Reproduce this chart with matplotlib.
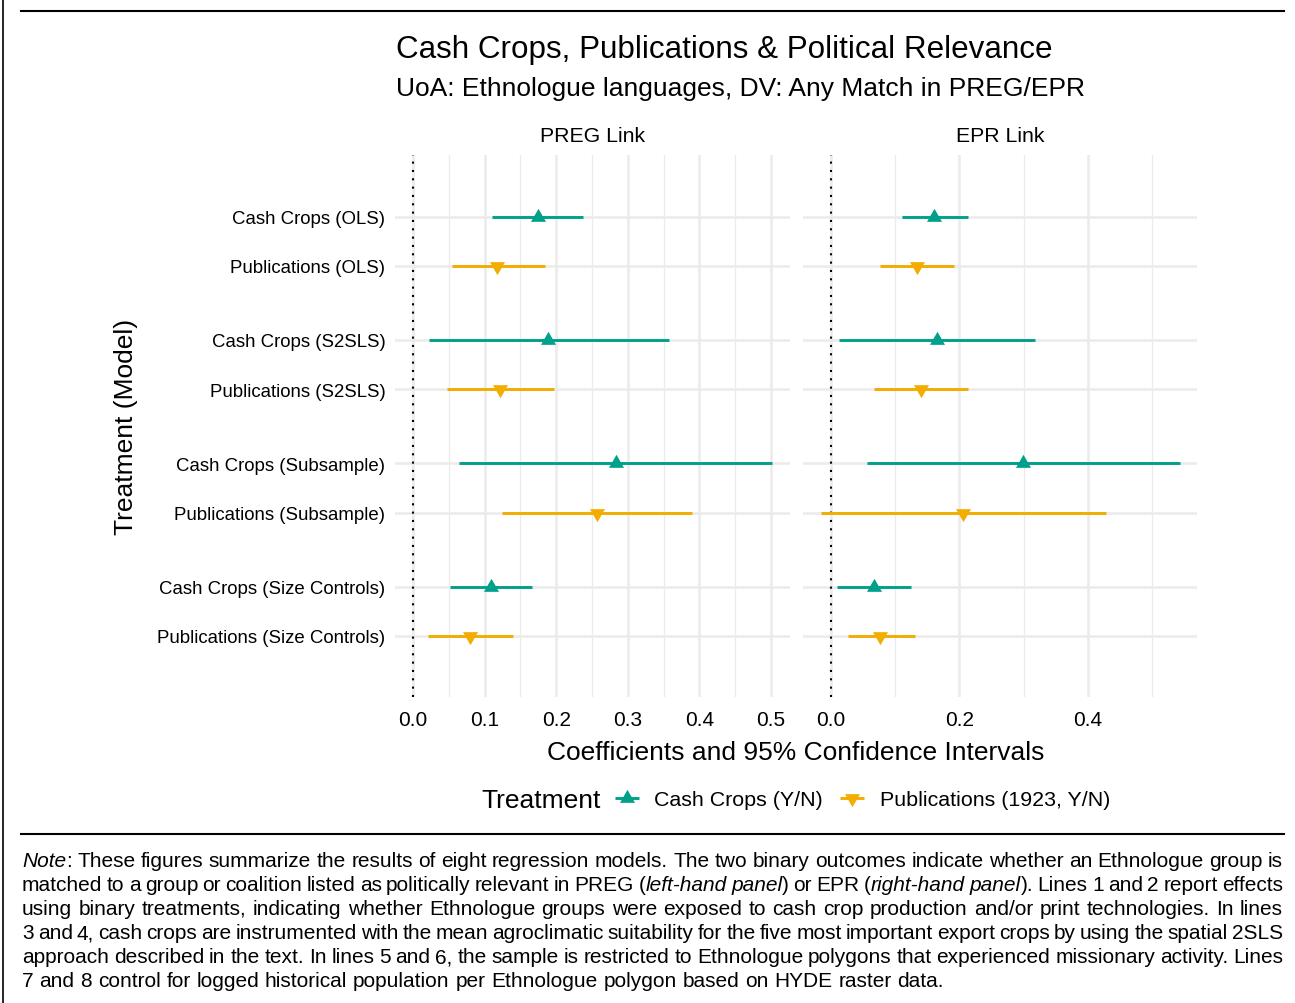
import re
import numpy as np
import matplotlib.pyplot as plt
from matplotlib.lines import Line2D

plt.rcParams['font.family'] = ['Liberation Sans', 'DejaVu Sans']

# rows, top to bottom
models = ["Cash Crops (OLS)", "Publications (OLS)",
          "Cash Crops (S2SLS)", "Publications (S2SLS)",
          "Cash Crops (Subsample)", "Publications (Subsample)",
          "Cash Crops (Size Controls)", "Publications (Size Controls)"]
treatments = ["Cash Crops (Y/N)", "Publications (1923, Y/N)"] * 4

preg_est = [0.174, 0.118, 0.189, 0.122, 0.283, 0.257, 0.109, 0.080]
preg_lo = [0.110, 0.054, 0.022, 0.048, 0.064, 0.124, 0.052, 0.021]
preg_hi = [0.238, 0.184, 0.358, 0.197, 0.501, 0.390, 0.166, 0.140]

epr_est = [0.161, 0.134, 0.165, 0.140, 0.299, 0.206, 0.067, 0.077]
epr_lo = [0.110, 0.077, 0.013, 0.067, 0.056, -0.016, 0.009, 0.026]
epr_hi = [0.213, 0.191, 0.318, 0.213, 0.543, 0.429, 0.124, 0.131]

panels = ["PREG Link", "EPR Link"]
legend_labels = ["Cash Crops (Y/N)", "Publications (1923, Y/N)"]
colors = {"Cash Crops (Y/N)": "#00A08A", "Publications (1923, Y/N)": "#F2AD00"}

note_lines = [
    "*Note*: These figures summarize the results of eight regression models. The two binary outcomes indicate whether an Ethnologue group is",
    "matched to a group or coalition listed as politically relevant in PREG (*left-hand* *panel*) or EPR (*right-hand* *panel*). Lines 1 and 2 report effects",
    "using binary treatments, indicating whether Ethnologue groups were exposed to cash crop production and/or print technologies. In lines",
    "3 and 4, cash crops are instrumented with the mean agroclimatic suitability for the five most important export crops by using the spatial 2SLS",
    "approach described in the text. In lines 5 and 6, the sample is restricted to Ethnologue polygons that experienced missionary activity. Lines",
    "7 and 8 control for logged historical population per Ethnologue polygon based on HYDE raster data.",
]

W, H = 1295, 1004
fig = plt.figure(figsize=(W / 100, H / 100), dpi=100)


def fx(px):
    return px / W


def fy(py):
    return 1 - py / H


# equilateral triangles centred on their centroid (like ggplot shapes 17 / 25)
tri_up = [(-1, -0.577), (1, -0.577), (0, 1.155), (-1, -0.577)]
tri_down = [(x, -y) for x, y in tri_up]
markers = {"Cash Crops (Y/N)": tri_up, "Publications (1923, Y/N)": tri_down}
msize = 12.5

ypos = [g * 2.5 + k for g in range(4) for k in range(2)]

ax_l = fig.add_axes([fx(395), fy(698), (790 - 395) / W, (698 - 156) / H])
ax_r = fig.add_axes([fx(803), fy(698), (1197 - 803) / W, (698 - 156) / H])

setups = [
    (ax_l, preg_est, preg_lo, preg_hi, (-0.025, 0.5265),
     np.arange(0, 0.51, 0.1), np.arange(0.05, 0.5, 0.1)),
    (ax_r, epr_est, epr_lo, epr_hi, (-0.0436, 0.570),
     np.arange(0, 0.41, 0.2), np.arange(0.1, 0.51, 0.2)),
]

for ax, est, lo, hi, xlim, major, minor in setups:
    for y, e, l, h, tr in zip(ypos, est, lo, hi, treatments):
        ax.plot([l, h], [y, y], color=colors[tr], lw=2.1,
                solid_capstyle='butt', zorder=3)
        ax.plot([e], [y], linestyle='none', marker=markers[tr], ms=msize,
                color=colors[tr], mew=0, zorder=4)
    ax.axvline(0, color='black', lw=1.5, linestyle=(0, (1, 3)), zorder=2)
    ax.set_xlim(*xlim)
    ax.set_ylim(9.74, -1.25)
    ax.set_xticks(major)
    ax.set_xticks(minor, minor=True)
    ax.set_xticklabels([f"{v:.1f}" for v in major], fontsize=15)
    ax.set_yticks(ypos)
    ax.grid(which='major', axis='both', color='#EBEBEB', lw=1.8)
    ax.grid(which='minor', axis='x', color='#EBEBEB', lw=0.9)
    ax.set_axisbelow(True)
    ax.tick_params(which='both', length=0)
    ax.tick_params(axis='x', pad=9, colors='black')
    for s in ax.spines.values():
        s.set_visible(False)

ax_l.set_yticklabels(models, fontsize=13.4)
ax_l.tick_params(axis='y', pad=7)
ax_r.set_yticklabels([])

# facet strips
fig.text(fx(592.5), fy(142.5), panels[0], fontsize=15.3, ha='center', va='baseline')
fig.text(fx(1000), fy(142.5), panels[1], fontsize=15.3, ha='center', va='baseline')

# titles and axis labels
fig.text(fx(396), fy(58), "Cash Crops, Publications & Political Relevance",
         fontsize=22.6, va='baseline')
fig.text(fx(396), fy(96), "UoA: Ethnologue languages, DV: Any Match in PREG/EPR",
         fontsize=19, va='baseline')
fig.text(fx(796), fy(760), "Coefficients and 95% Confidence Intervals",
         fontsize=19, ha='center', va='baseline')
fig.text(fx(126), fy(427), "Treatment (Model)", fontsize=19, rotation=90,
         ha='center', va='center')

# legend
fig.text(fx(481), fy(808.5), "Treatment", fontsize=19, va='baseline')
key_x = [627, 852]
label_x = [654, 880]
for kx, lx, lab in zip(key_x, label_x, legend_labels):
    fig.add_artist(Line2D([fx(kx - 12), fx(kx + 12)], [fy(799), fy(799)],
                          color=colors[lab], lw=2.1, solid_capstyle='butt'))
    fig.add_artist(Line2D([fx(kx)], [fy(799)], linestyle='none',
                          marker=markers[lab], ms=msize, mew=0, color=colors[lab]))
    fig.text(fx(lx), fy(806.5), lab, fontsize=15.4, va='baseline')

# frame rules
fig.add_artist(Line2D([fx(21), fx(1284)], [fy(12), fy(12)], color='black', lw=1.5))
fig.add_artist(Line2D([fx(21), fx(1284)], [fy(835), fy(835)], color='black', lw=1.5))
fig.add_artist(Line2D([fx(3), fx(3)], [0, 1], color='black', lw=1.2))

# justified note below the rule
renderer = fig.canvas.get_renderer()


def parts_of(word):
    bits = [b for b in re.split(r'(\*[^*]+\*)', word) if b]
    return [(b.strip('*'), 'italic' if b.startswith('*') else 'normal') for b in bits]


def width_of(s, style, size):
    t = fig.text(0, 0, s, fontsize=size, style=style)
    w = t.get_window_extent(renderer).width
    t.remove()
    return w


def word_width(word, size):
    return sum(width_of(s, st, size) for s, st in parts_of(word))


probe = 10
space = width_of("x x", 'normal', probe) - width_of("xx", 'normal', probe)
last_words = note_lines[-1].split(' ')
natural = sum(word_width(w, probe) for w in last_words) + space * (len(last_words) - 1)
note_size = probe * 923 / natural
space = space * note_size / probe

left, right = 22, 1283
for i, line in enumerate(note_lines):
    words = line.split(' ')
    widths = [word_width(w, note_size) for w in words]
    if i < len(note_lines) - 1:
        gap = (right - left - sum(widths)) / (len(words) - 1)
    else:
        gap = space
    x = left
    base = 867.5 + 24 * i
    for w, ww in zip(words, widths):
        xx = x
        for s, st in parts_of(w):
            fig.text(fx(xx), fy(base), s, fontsize=note_size, style=st, va='baseline')
            xx += width_of(s, st, note_size)
        x += ww + gap

fig.savefig("out.png", dpi=100)
